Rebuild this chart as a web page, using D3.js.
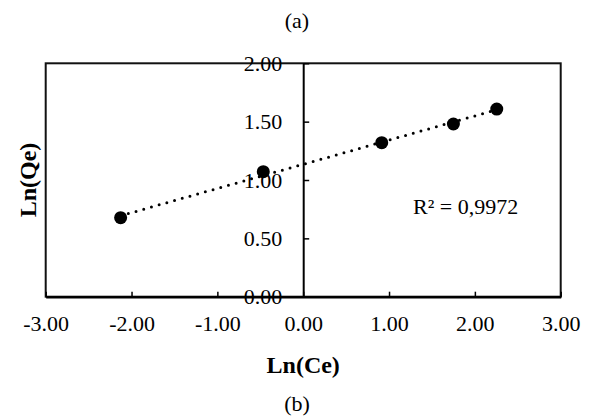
<!DOCTYPE html>
<html>
<head>
<meta charset="utf-8">
<script src="https://cdn.jsdelivr.net/npm/d3@7"></script>
<style>
    body { margin: 0; background: #fff; }
    svg { display: block; font-family: "Liberation Serif", "Times New Roman", serif; }
</style>
</head>
<body>
<div id="chart"></div>
<script>
    const lnCe = [-2.127, -0.465, 0.915, 1.75, 2.255];
    const lnQe = [0.677, 1.071, 1.32, 1.48, 1.608];
    const xTicks = [-3, -2, -1, 0, 1, 2, 3];
    const yTicks = [0, 0.5, 1, 1.5, 2];
    const r2Label = "R² = 0,9972";

    const width = 594;
    const height = 418;
    const margin = ({top: 63.3, right: 33.3, bottom: 121.3, left: 45.7});

    const fmt = d => d3.format(".2f")(d).replace("\u2212", "-");

    const x = d3.scaleLinear()
        .domain([-3, 3])
        .range([margin.left, width - margin.right]);

    const y = d3.scaleLinear()
        .domain([0, 2])
        .range([height - margin.bottom, margin.top]);

    const svg = d3.select("#chart").append("svg")
        .attr("width", width)
        .attr("height", height)
        .attr("viewBox", [0, 0, width, height]);

    // plot area border
    svg.append("rect")
        .attr("x", x(-3))
        .attr("y", y(2))
        .attr("width", x(3) - x(-3))
        .attr("height", y(0) - y(2))
        .attr("fill", "none")
        .attr("stroke", "#111")
        .attr("stroke-width", 2);

    const xAxis = g => g
        .attr("transform", `translate(0,${y(0)})`)
        .call(d3.axisBottom(x).tickValues(xTicks)
            .tickFormat(fmt)
            .tickSizeInner(-5)
            .tickSizeOuter(0)
            .tickPadding(19))
        .call(g => g.select(".domain").attr("stroke-width", 2.5))
        .call(g => g.selectAll(".tick line").attr("stroke-width", 1.5))
        .call(g => g.selectAll("text")
            .attr("font-size", 22)
            .attr("font-family", "Liberation Serif, Times New Roman, serif")
            .attr("fill", "#000"));

    const yAxis = g => g
        .attr("transform", `translate(${x(0)},0)`)
        .call(d3.axisLeft(y).tickValues(yTicks)
            .tickFormat(fmt)
            .tickSizeInner(-6)
            .tickSizeOuter(0)
            .tickPadding(21))
        .call(g => g.select(".domain").attr("stroke-width", 2))
        .call(g => g.selectAll(".tick line").attr("stroke-width", 1.5))
        .call(g => g.selectAll("text")
            .attr("font-size", 22)
            .attr("font-family", "Liberation Serif, Times New Roman, serif")
            .attr("fill", "#000"));

    svg.append("g").call(xAxis);
    svg.append("g").call(yAxis);

    // linear trendline (least squares)
    const mx = d3.mean(lnCe);
    const my = d3.mean(lnQe);
    const slope = d3.sum(lnCe, (v, i) => (v - mx) * (lnQe[i] - my)) / d3.sum(lnCe, v => (v - mx) ** 2);
    const intercept = my - slope * mx;
    const ext = d3.extent(lnCe);

    svg.append("path")
        .datum(ext)
        .attr("d", d3.line().x(d => x(d)).y(d => y(intercept + slope * d)))
        .attr("fill", "none")
        .attr("stroke", "#000")
        .attr("stroke-width", 3)
        .attr("stroke-linecap", "round")
        .attr("stroke-dasharray", "0 8");

    svg.append("g")
        .selectAll("circle")
        .data(lnCe)
        .join("circle")
        .attr("cx", d => x(d))
        .attr("cy", (d, i) => y(lnQe[i]))
        .attr("r", 6.5)
        .attr("fill", "#000");

    svg.append("text")
        .attr("x", 413)
        .attr("y", 214)
        .attr("font-size", 22)
        .attr("fill", "#000")
        .text(r2Label);

    svg.append("text")
        .attr("x", 297)
        .attr("y", 28)
        .attr("text-anchor", "middle")
        .attr("font-size", 22)
        .text("(a)");

    svg.append("text")
        .attr("x", (x(-3) + x(3)) / 2)
        .attr("y", 373)
        .attr("text-anchor", "middle")
        .attr("font-size", 24)
        .attr("font-weight", "bold")
        .text("Ln(Ce)");

    svg.append("text")
        .attr("x", 297)
        .attr("y", 411)
        .attr("text-anchor", "middle")
        .attr("font-size", 22)
        .text("(b)");

    svg.append("text")
        .attr("transform", `translate(36,${(y(0) + y(2)) / 2}) rotate(-90)`)
        .attr("text-anchor", "middle")
        .attr("font-size", 24)
        .attr("font-weight", "bold")
        .text("Ln(Qe)");
</script>
</body>
</html>
